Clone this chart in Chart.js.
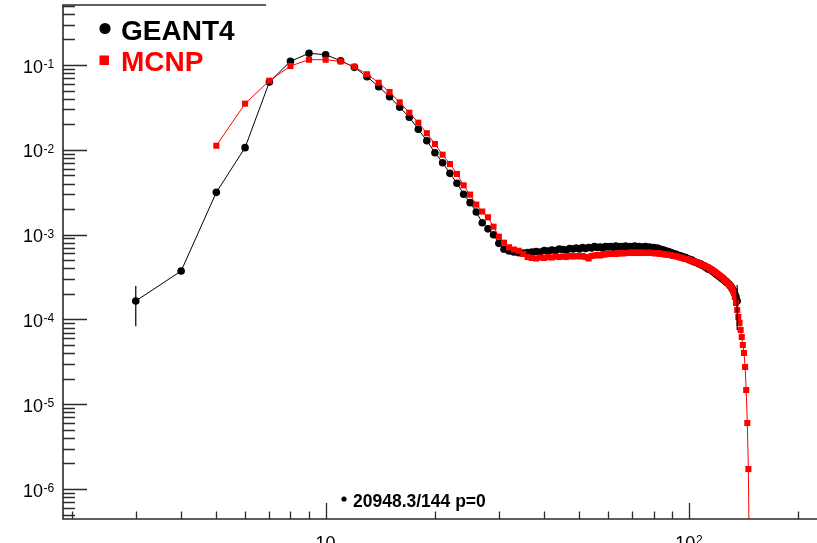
<!DOCTYPE html>
<html>
<head>
<meta charset="utf-8">
<script src="https://cdn.jsdelivr.net/npm/chart.js@4.4.1/dist/chart.umd.min.js"></script>
<style>
  html, body { margin: 0; padding: 0; background: #fff; overflow: hidden; }
  #wrap { width: 817px; height: 543px; }
</style>
</head>
<body>
<div id="wrap"><canvas id="spectrum" width="817" height="543"></canvas></div>
<script>
// bin centres (MeV), shared by both spectra
const binCenters = [
    3, 4, 5, 6, 7, 8, 9, 10, 11, 12,
    13, 14, 15, 16, 17, 18, 19, 20, 21, 22,
    23, 24, 25, 26, 27, 28, 29, 30, 31, 32,
    33, 34, 35, 36, 37, 38, 39, 40, 41, 42,
    43, 44, 45, 46, 47, 48, 49, 50, 51, 52,
    53, 54, 55, 56, 57, 58, 59, 60, 61, 62,
    63, 64, 65, 66, 67, 68, 69, 70, 71, 72,
    73, 74, 75, 76, 77, 78, 79, 80, 81, 82,
    83, 84, 85, 86, 87, 88, 89, 90, 91, 92,
    93, 94, 95, 96, 97, 98, 99, 100, 101, 102,
    103, 104, 105, 106, 107, 108, 109, 110, 111, 112,
    113, 114, 115, 116, 117, 118, 119, 120, 121, 122,
    123, 124, 125, 126, 127, 128, 129, 130, 131, 132,
    133, 134, 135, 136, 137, 138, 139, 140, 141, 142,
    143, 144, 145, 146, 147
];

const g4Flux = [
    1.65e-4, 3.72e-4, 3.15e-3, 1.06e-2, 6.30e-2, 0.1105, 0.1374, 0.1323, 0.1124, 0.0939,
    0.0728, 0.0555, 0.0423, 0.0317, 0.0242, 0.01745, 0.0128, 0.00924, 0.00705, 0.00528,
    0.00403, 0.00299, 0.00238, 0.00185, 0.00138, 0.00117, 9.97e-4, 7.89e-4, 6.71e-4, 6.41e-4,
    6.24e-4, 6.12e-4, 6.07e-4, 6.15e-4, 6.24e-4, 6.32e-4, 6.24e-4, 6.50e-4, 6.41e-4, 6.58e-4,
    6.50e-4, 6.77e-4, 6.67e-4, 6.58e-4, 6.86e-4, 6.77e-4, 6.95e-4, 6.77e-4, 7.05e-4, 6.86e-4,
    7.05e-4, 6.95e-4, 7.24e-4, 7.05e-4, 7.14e-4, 6.95e-4, 7.24e-4, 7.14e-4, 7.24e-4, 7.05e-4,
    7.34e-4, 7.14e-4, 7.24e-4, 7.05e-4, 7.34e-4, 7.14e-4, 7.24e-4, 7.14e-4, 7.34e-4, 7.14e-4,
    7.24e-4, 7.05e-4, 7.14e-4, 7.24e-4, 7.05e-4, 7.14e-4, 6.95e-4, 7.05e-4, 6.86e-4, 6.95e-4,
    6.77e-4, 6.67e-4, 6.58e-4, 6.50e-4, 6.32e-4, 6.32e-4, 6.15e-4, 6.07e-4, 5.91e-4, 5.91e-4,
    5.75e-4, 5.67e-4, 5.59e-4, 5.52e-4, 5.37e-4, 5.37e-4, 5.23e-4, 5.16e-4, 5.02e-4, 5.02e-4,
    4.82e-4, 4.75e-4, 4.69e-4, 4.63e-4, 4.50e-4, 4.50e-4, 4.32e-4, 4.32e-4, 4.15e-4, 4.09e-4,
    3.93e-4, 3.93e-4, 3.88e-4, 3.72e-4, 3.67e-4, 3.53e-4, 3.43e-4, 3.34e-4, 3.25e-4, 3.16e-4,
    3.08e-4, 3.00e-4, 2.92e-4, 2.84e-4, 2.76e-4, 2.69e-4, 2.62e-4, 2.51e-4, 2.41e-4, 2.28e-4,
    2.16e-4, 1.99e-4, 1.84e-4, 1.65e-4, null, null, null, null, null, null,
    null, null, null, null, null
];

const mcnpFlux = [
    null, null, 0.01117, 0.0350, 0.0653, 0.0973, 0.1155, 0.1155, 0.1105, 0.0955,
    0.0777, 0.0618, 0.0480, 0.0363, 0.0274, 0.0209, 0.0157, 0.0117, 0.00875, 0.00680,
    0.00519, 0.00381, 0.00296, 0.00226, 0.00187, 0.00160, 0.00124, 9.44e-4, 8.03e-4, 7.08e-4,
    6.67e-4, 6.45e-4, 5.91e-4, 5.44e-4, 5.30e-4, 5.23e-4, 5.37e-4, 5.30e-4, 5.44e-4, 5.37e-4,
    5.52e-4, 5.44e-4, 5.52e-4, 5.44e-4, 5.59e-4, 5.52e-4, 5.59e-4, 5.52e-4, 5.59e-4, 5.44e-4,
    5.23e-4, 5.59e-4, 5.67e-4, 5.75e-4, 5.67e-4, 5.83e-4, 5.83e-4, 5.91e-4, 5.91e-4, 5.99e-4,
    5.91e-4, 5.99e-4, 6.07e-4, 5.99e-4, 6.07e-4, 6.07e-4, 6.15e-4, 6.07e-4, 6.15e-4, 6.07e-4,
    6.15e-4, 6.07e-4, 6.15e-4, 6.07e-4, 6.07e-4, 6.15e-4, 6.07e-4, 6.07e-4, 5.99e-4, 6.07e-4,
    5.99e-4, 5.91e-4, 5.91e-4, 5.83e-4, 5.83e-4, 5.75e-4, 5.75e-4, 5.67e-4, 5.59e-4, 5.59e-4,
    5.52e-4, 5.44e-4, 5.37e-4, 5.30e-4, 5.23e-4, 5.16e-4, 5.16e-4, 5.02e-4, 4.95e-4, 4.88e-4,
    4.82e-4, 4.75e-4, 4.69e-4, 4.63e-4, 4.56e-4, 4.50e-4, 4.38e-4, 4.32e-4, 4.26e-4, 4.15e-4,
    4.09e-4, 3.98e-4, 3.88e-4, 3.83e-4, 3.72e-4, 3.62e-4, 3.53e-4, 3.43e-4, 3.34e-4, 3.25e-4,
    3.16e-4, 3.08e-4, 2.96e-4, 2.88e-4, 2.80e-4, 2.69e-4, 2.58e-4, 2.48e-4, 2.38e-4, 2.28e-4,
    2.10e-4, 1.84e-4, 1.56e-4, 1.29e-4, 1.07e-4, 9.07e-5, 7.50e-5, 6.20e-5, 4.99e-5, 4.02e-5,
    2.75e-5, 1.47e-5, 6.00e-6, 1.72e-6, 1.0e-7
];

// statistical errors that stick out of the GEANT4 markers
const g4ErrBins = [3, 136];
const g4ErrValues = [8.2e-5, 9.0e-5];

const xRange = [1.891, 225.6];
const yRange = [4.43e-7, 0.51];
const statsText = '20948.3/144 p=0';

const axisColor = '#2b2b2b';
const labelFont = '"Liberation Sans", Arial, Helvetica, sans-serif';

function toPoints(values) {
    return binCenters.map((e, i) => ({ x: e, y: values[i] }));
}

function drawPower(ctx, exp, x, baseY, align) {
    const base = '10';
    const sup = String(exp);
    ctx.font = '18px ' + labelFont;
    const wBase = ctx.measureText(base).width;
    ctx.font = '12px ' + labelFont;
    const wSup = exp === 1 ? 0 : ctx.measureText(sup).width;
    let left;
    if (align === 'right') left = x - wBase;
    else left = x - (wBase + wSup) / 2;
    ctx.textAlign = 'left';
    ctx.font = '18px ' + labelFont;
    ctx.fillText(base, left, baseY);
    if (exp !== 1) {
        ctx.font = '12px ' + labelFont;
        ctx.fillText(sup, left + wBase + 0.5, baseY - 4.6);
    }
}

// ROOT-like frame: inward ticks, 10^n labels, legend and fit summary
const rootFrame = {
    id: 'rootFrame',
    afterDatasetsDraw(chart) {
        const { ctx, scales: { x, y } } = chart;
        ctx.save();
        ctx.strokeStyle = '#000';
        ctx.lineWidth = 1.2;
        g4ErrBins.forEach((bin, i) => {
            const v = g4Flux[binCenters.indexOf(bin)];
            const px = x.getPixelForValue(bin);
            ctx.beginPath();
            ctx.moveTo(px, y.getPixelForValue(v + g4ErrValues[i]));
            ctx.lineTo(px, y.getPixelForValue(v - g4ErrValues[i]));
            ctx.stroke();
        });
        ctx.restore();
    },
    afterDraw(chart) {
        const { ctx, chartArea: area, scales: { x, y } } = chart;
        ctx.save();
        ctx.strokeStyle = axisColor;
        ctx.lineWidth = 1.6;
        ctx.beginPath();
        ctx.moveTo(area.left + 203, area.top);
        ctx.lineTo(area.left, area.top);
        ctx.lineTo(area.left, area.bottom);
        ctx.lineTo(area.right, area.bottom);
        ctx.stroke();

        // y ticks
        ctx.lineWidth = 1.3;
        ctx.beginPath();
        for (let e = -7; e <= 0; e++) {
            for (let m = 1; m <= 9; m++) {
                const v = m * Math.pow(10, e);
                if (v < y.min || v > y.max) continue;
                const py = Math.round(y.getPixelForValue(v)) + 0.5;
                ctx.moveTo(area.left, py);
                ctx.lineTo(area.left + (m === 1 ? 24 : 12), py);
            }
        }
        // x ticks
        for (let e = 0; e <= 2; e++) {
            for (let m = 1; m <= 9; m++) {
                const v = m * Math.pow(10, e);
                if (v < x.min || v > x.max) continue;
                const px = Math.round(x.getPixelForValue(v)) + 0.5;
                ctx.moveTo(px, area.bottom);
                ctx.lineTo(px, area.bottom - (m === 1 ? 16 : 7.5));
            }
        }
        ctx.stroke();

        ctx.fillStyle = '#000';
        ctx.textBaseline = 'alphabetic';
        for (let e = -6; e <= -1; e++) {
            const py = y.getPixelForValue(Math.pow(10, e));
            drawPower(ctx, e, 43, py + 7.6, 'right');
        }
        [1, 2].forEach(e => {
            drawPower(ctx, e, x.getPixelForValue(Math.pow(10, e)), area.bottom + 30, 'center');
        });

        // legend
        const g4 = chart.data.datasets[0];
        const mc = chart.data.datasets[1];
        ctx.font = 'bold 28px ' + labelFont;
        ctx.textAlign = 'left';
        ctx.fillStyle = g4.borderColor;
        ctx.beginPath();
        ctx.arc(105, 28.5, 5.6, 0, Math.PI * 2);
        ctx.fill();
        ctx.fillText(g4.label, 121, 39.5);
        ctx.fillStyle = mc.borderColor;
        ctx.fillRect(99.5, 55.5, 9.5, 9.5);
        ctx.fillText(mc.label, 121, 71);

        // compatibility test summary
        ctx.fillStyle = '#000';
        ctx.beginPath();
        ctx.arc(344, 499, 2.6, 0, Math.PI * 2);
        ctx.fill();
        ctx.font = 'bold 17.5px ' + labelFont;
        ctx.fillText(statsText, 353, 506.5);
        ctx.restore();
    }
};

new Chart(document.getElementById('spectrum'), {
    type: 'line',
    data: {
        datasets: [
            {
                label: 'GEANT4',
                data: toPoints(g4Flux),
                borderColor: '#000000',
                backgroundColor: '#000000',
                borderWidth: 1,
                pointStyle: 'circle',
                pointRadius: 3.8,
                pointBorderWidth: 0,
                tension: 0,
                order: 2
            },
            {
                label: 'MCNP',
                data: toPoints(mcnpFlux),
                borderColor: '#ff0000',
                backgroundColor: '#ff0000',
                borderWidth: 1,
                pointStyle: 'rect',
                pointRadius: 4.3,
                pointBorderWidth: 0,
                tension: 0,
                order: 1
            }
        ]
    },
    options: {
        responsive: false,
        animation: false,
        events: [],
        layout: { autoPadding: false, padding: { left: 63, top: 5, right: 0, bottom: 24 } },
        scales: {
            x: { type: 'logarithmic', min: xRange[0], max: xRange[1], display: false },
            y: { type: 'logarithmic', min: yRange[0], max: yRange[1], display: false }
        },
        plugins: {
            legend: { display: false },
            tooltip: { enabled: false }
        }
    },
    plugins: [rootFrame]
});
</script>
</body>
</html>
